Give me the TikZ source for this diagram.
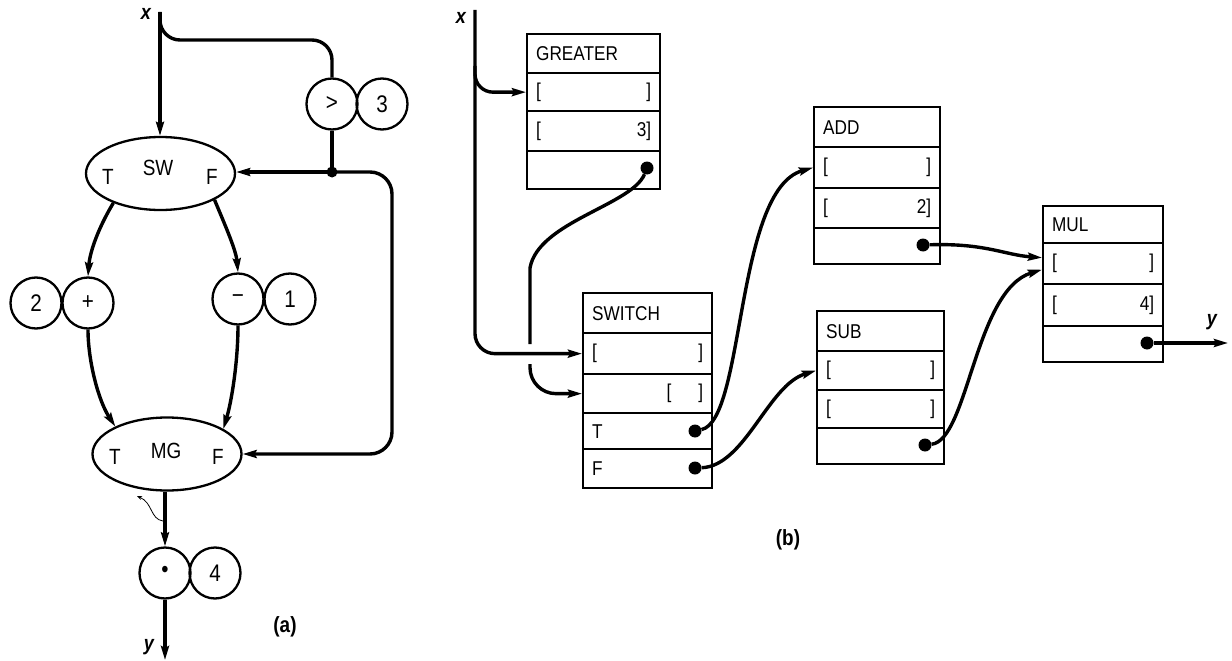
\documentclass[tikz,border=0pt]{standalone}
\usepackage{fontspec}
\setmainfont{Liberation Sans}[FakeStretch=0.86]
\usetikzlibrary{shapes.geometric,arrows.meta,calc}
\begin{document}
\begin{tikzpicture}[x=1pt,y=-1pt,
  conn/.style={line width=3.4pt},
  arr/.style={-{Stealth[length=14pt,width=8pt,inset=2pt]}},
  opc/.style={circle,draw,line width=2.3pt,minimum size=51pt,inner sep=0pt,font=\fontsize{24}{24}\selectfont},
  ell/.style={ellipse,draw,line width=2.3pt,minimum width=149pt,minimum height=73pt,inner sep=0pt},
  lab/.style={font=\fontsize{22}{22}\selectfont,inner sep=0pt},
  vlab/.style={font=\fontsize{21}{21}\selectfont\bfseries\itshape,inner sep=0pt},
  captxt/.style={font=\fontsize{22}{22}\selectfont\bfseries,inner sep=0pt},
  row/.style={draw,line width=2.3pt,anchor=north west,inner xsep=9pt,inner ysep=0pt,align=left,font=\fontsize{20}{20}\selectfont},
  dotc/.style={circle,fill,minimum size=13pt,inner sep=0pt},
]
\useasboundingbox (0,0) rectangle (1232,661);

% ---------------- (a) ----------------
\coordinate (xa) at (160,12);
\node[vlab] (xla) at (146,14) {x};
\node[ell] (sw) at (160.5,173.5) {};
\node[lab] (swT) at (108,177) {T};
\node[lab] (swN) at (158,168) {SW};
\node[lab] (swF) at (212,177) {F};

\node[opc] (gt) at (332,104) {>};
\node[opc] (three) at (382,104) {3};
\coordinate (jd) at (332,172);
\node[dotc,minimum size=11pt] (jdot) at (jd) {};

\node[opc] (two) at (36,303) {2};
\node[opc] (plus) at (88,303) {+};
\node[opc] (minus) at (238,299) {−};
\node[opc] (one) at (290,299) {1};

\node[ell] (mg) at (167,454) {};
\node[lab] (mgT) at (115,457) {T};
\node[lab] (mgN) at (166,451) {MG};
\node[lab] (mgF) at (218,457) {F};

\node[opc] (star) at (165,573) {\raisebox{3pt}{\textbullet}};
\node[opc] (four) at (215,573) {4};
\coordinate (yend) at (165,660);
\node[vlab] (yla) at (149,647) {y};
\node[captxt] (capa) at (285,627) {(a)};

\draw[conn,arr] (xa) -- (xa |- sw.north);
\draw[conn,rounded corners=20pt] (xa) |- (332,40) -- (gt.north);
\draw[conn] (gt.south) -- (jd);
\draw[conn,arr] (jd) -- (jd -| sw.east);
\draw[conn,arr,rounded corners=22pt] (jd) -- (392,172) -- (392,454) -- (mg.east);
\draw[conn,arr] (sw.212) .. controls (100,225) and (90,250) .. (plus.north);
\draw[conn,arr] (sw.-26) .. controls (225,225) and (236,250) .. (minus.north);
\draw[conn,arr] (plus.south) .. controls (88,360) and (98,400) .. (mg.152);
\draw[conn,arr] (minus.south) .. controls (238,360) and (232,400) .. (mg.24);
\draw[conn,arr] (mg.south -| star.north) -- (star.north);
\draw[conn,arr] (star.south) -- (yend);
\draw[line width=0.8pt,-{Stealth[length=5pt,width=4pt]}] (163,521) .. controls (150,519) and (153,503) .. (137,496);

% ---------------- (b) ----------------
\coordinate (xb) at (475,10);
\node[vlab] (xlb) at (461,18) {x};

% GREATER
\node[row,minimum height=39pt,text width=115pt] (grH) at (526,33) {GREATER};
\node[row,minimum height=38pt,text width=115pt] (grR1) at (526,72) {[\hfill]};
\node[row,minimum height=40pt,text width=115pt] (grR2) at (526,110) {[\hfill 3]};
\node[row,minimum height=38pt,text width=115pt] (grR3) at (526,150) {};
\node[dotc] (gO) at (647,168) {};

% SWITCH
\node[row,minimum height=40pt,text width=111pt] (swH) at (582,292) {SWITCH};
\node[row,minimum height=41pt,text width=111pt] (swR1) at (582,332) {[\hfill]};
\node[row,minimum height=39pt,text width=111pt] (swR2) at (582,373) {\hfill[\hspace{27pt}]};
\node[row,minimum height=36pt,text width=111pt] (swRT) at (582,412) {T};
\node[row,minimum height=39pt,text width=111pt] (swRF) at (582,448) {F};
\node[dotc] (swTo) at (695,431) {};
\node[dotc] (swFo) at (695,468) {};

% ADD
\node[row,minimum height=40pt,text width=108pt] (adH) at (813,106) {ADD};
\node[row,minimum height=41pt,text width=108pt] (adR1) at (813,146) {[\hfill]};
\node[row,minimum height=40pt,text width=108pt] (adR2) at (813,187) {[\hfill 2]};
\node[row,minimum height=36pt,text width=108pt] (adR3) at (813,227) {};
\node[dotc] (adO) at (923,245) {};

% SUB
\node[row,minimum height=40pt,text width=109pt] (sbH) at (816,310) {SUB};
\node[row,minimum height=39pt,text width=109pt] (sbR1) at (816,350) {[\hfill]};
\node[row,minimum height=38pt,text width=109pt] (sbR2) at (816,389) {[\hfill]};
\node[row,minimum height=36pt,text width=109pt] (sbR3) at (816,427) {};
\node[dotc] (sbO) at (925,445) {};

% MUL
\node[row,minimum height=37pt,text width=102pt] (muH) at (1042,205) {MUL};
\node[row,minimum height=41pt,text width=102pt] (muR1) at (1042,242) {[\hfill]};
\node[row,minimum height=42pt,text width=102pt] (muR2) at (1042,283) {[\hfill 4]};
\node[row,minimum height=36pt,text width=102pt] (muR3) at (1042,325) {};
\node[dotc] (muO) at (1147,343) {};
\coordinate (yout) at (1228,343);
\node[vlab] (ylb) at (1212,322) {y};

\node[captxt] (capb) at (788,540) {(b)};

% connectors (b)
\coordinate (gapA) at (530,344);
\coordinate (gapB) at (530,364);
\coordinate (xbr) at (475,66);
\draw[conn] (gO) .. controls (632,205) and (538,222) .. (530,268) -- (gapA);
\draw[conn,arr,rounded corners=26pt] (gapB) |- (swR2.west);
\draw[conn,arr,rounded corners=20pt] (xb) |- (swR1.west);
\draw[conn,arr,rounded corners=18pt] (xbr) |- (grR1.west);
\draw[conn,arr] (swTo) .. controls (745,420) and (735,190) .. (adR1.west);
\draw[conn,arr] (swFo) .. controls (745,466) and (768,385) .. (sbR1.west);
\draw[conn,arr] (adO) .. controls (985,243) and (1005,255) .. ($(muR1.west)+(0,-6)$);
\draw[conn,arr] (sbO) .. controls (968,440) and (975,290) .. ($(muR1.west)+(0,6)$);
\draw[conn,arr] (muO) -- (yout);
\end{tikzpicture}
\end{document}
